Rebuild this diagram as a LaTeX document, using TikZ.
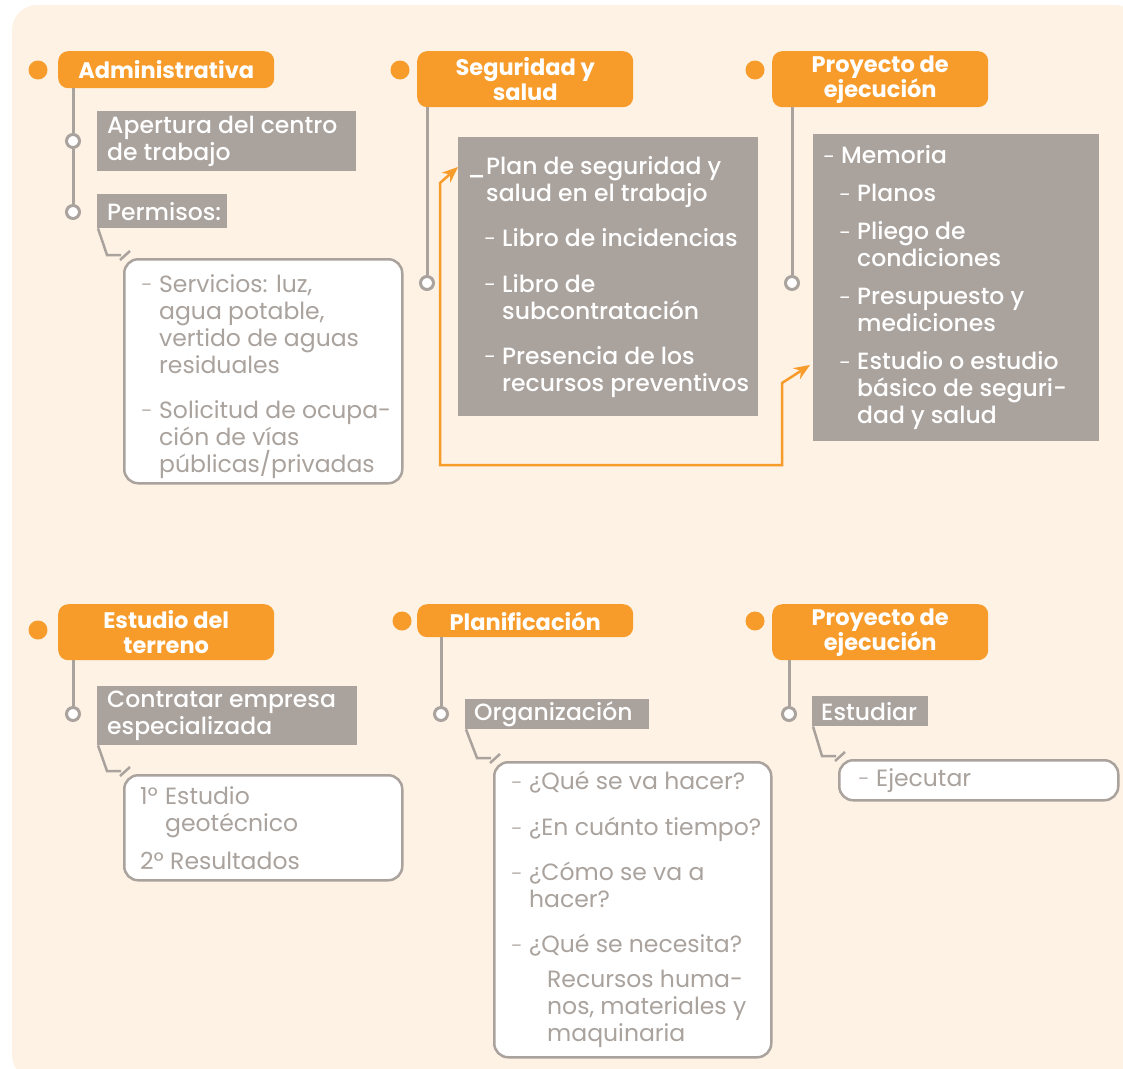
\documentclass[tikz,border=0pt]{standalone}
\usepackage{fontspec}
\setmainfont{Poppins}
\newfontfamily\pmed{Poppins Medium}
\usetikzlibrary{arrows.meta,calc}

\definecolor{naranja}{HTML}{F79C2B}
\definecolor{gris}{HTML}{A9A29D}
\definecolor{crema}{HTML}{FDF2E4}

\newcommand{\guion}{\makebox[19pt][l]{\hspace{1pt}\raisebox{1.5pt}{\fontsize{16}{16}\selectfont–}}}
\newcommand{\sang}{\hspace*{19pt}}

\tikzset{
  cab/.style={fill=naranja, rounded corners=10, text=white, font=\bfseries\fontsize{22.5}{25}\selectfont,
    align=center, anchor=north west, minimum width=216, inner sep=0pt},
  punto/.style={circle, fill=naranja, minimum size=19, inner sep=0pt},
  hito/.style={circle, draw=gris, line width=3, fill=white, minimum size=13, inner sep=0pt},
  caja/.style={fill=gris, anchor=north west, inner sep=0pt},
  nota/.style={draw=gris, line width=2.5, fill=white, rounded corners=14, anchor=north west, inner sep=0pt},
  tcaja/.style={text=white, align=left, anchor=west, inner sep=0pt, font=\pmed\fontsize{23.5}{27}\selectfont},
  tnota/.style={text=gris, align=left, anchor=west, inner sep=0pt, font=\fontsize{23.5}{27}\selectfont},
  eje/.style={draw=gris, line width=3},
  enlace/.style={draw=gris, line width=2.5},
  flecha/.style={draw=naranja, line width=2.5, {Stealth[length=16pt,width=13pt]}-{Stealth[length=16pt,width=13pt]}},
}

\begin{document}
\begin{tikzpicture}[x=1pt,y=-1pt]
\useasboundingbox (0,0) rectangle (1123,1068);
\clip (0,0) rectangle (1123,1068);
\fill[crema, rounded corners=25] (12,5) rectangle (1140,1080);

% administrativa
\node[punto] (p1) at (38,70) {};
\node[cab, minimum height=37] (adm) at (58,51) {Administrativa};
\node[hito] (h1) at (73,141) {};
\node[hito] (h2) at (73,212) {};
\draw[eje] (adm.south -| h1) -- (h1.north) (h1.south) -- (h2.north);
\node[caja, minimum width=259, minimum height=60] (apert) at (97,111) {};
\node[tcaja] (apertt) at ($(apert.west)+(10,0)$) {Apertura del centro\\de trabajo};
\node[caja, minimum width=130, minimum height=34] (perm) at (97,194) {};
\node[tcaja] (permt) at ($(perm.west)+(10,0)$) {Permisos:};
\node[nota, minimum width=278, minimum height=224] (serv) at (123,258) {};
\node[tnota] (servt) at ($(serv.west)+(17,5)$) {\guion Servicios: luz,\\\sang agua potable,\\\sang vertido de aguas\\\sang residuales\\[18pt]\guion Solicitud de ocupa-\\\sang ción de vías\\\sang públicas/privadas};
\draw[enlace] ($(perm.south west)+(1,0)$) -- ($(serv.north west)+(-16,-3)$) -- ($(serv.north west)+(-2,-3)$);
\draw[enlace] ($(serv.north west)+(-3,2)$) -- ($(serv.north west)+(7,-7)$);

% seguridad y salud
\node[punto] (p2) at (400,70) {};
\node[cab, minimum height=56] (seg) at (417,51) {Seguridad y\\salud};
\node[hito] (h3) at (427,283) {};
\draw[eje] (seg.south -| h3) -- (h3.north);
\node[caja, minimum width=300, minimum height=279] (plan) at (458,137) {};
\node[tcaja] (plant) at ($(plan.west)+(9,0)$) {\makebox[19pt][l]{\_}Plan de seguridad y\\\sang salud en el trabajo\\[18pt]\hspace*{16pt}\guion Libro de incidencias\\[19pt]\hspace*{16pt}\guion Libro de\\\hspace*{35pt}subcontratación\\[18pt]\hspace*{16pt}\guion Presencia de los\\\hspace*{35pt}recursos preventivos};

% proyecto de ejecucion
\node[punto] (p3) at (755,70) {};
\node[cab, minimum height=56] (proy) at (772,51) {Proyecto de\\ejecución};
\node[hito] (h4) at (792,283) {};
\draw[eje] (proy.south -| h4) -- (h4.north);
\node[caja, minimum width=286, minimum height=307] (memo) at (813,134) {};
\node[tcaja] (memot) at ($(memo.west)+(9,0)$) {\guion Memoria\\[11pt]\hspace*{16pt}\guion Planos\\[11pt]\hspace*{16pt}\guion Pliego de\\\hspace*{35pt}condiciones\\[11pt]\hspace*{16pt}\guion Presupuesto y\\\hspace*{35pt}mediciones\\[11pt]\hspace*{16pt}\guion Estudio o estudio\\\hspace*{35pt}básico de seguri-\\\hspace*{35pt}dad y salud};

% flecha naranja
\coordinate (f1) at (440,465);
\coordinate (f2) at (782,465);
\draw[flecha] ($(plan.north west)+(0,30)$) -- ($(plan.north west)+(-18,46)$) -- (f1) -- (f2)
  -- ($(memo.north west)+(-31,249)$) -- ($(memo.north west)+(-3,231)$);

% estudio del terreno
\node[punto] (p4) at (38,630) {};
\node[cab, minimum height=56] (est) at (58,604) {Estudio del\\terreno};
\node[hito] (h5) at (73,714) {};
\draw[eje] (est.south -| h5) -- (h5.north);
\node[caja, minimum width=260, minimum height=59] (contr) at (97,686) {};
\node[tcaja] (contrt) at ($(contr.west)+(10,0)$) {Contratar empresa\\especializada};
\node[nota, minimum width=278, minimum height=105] (resul) at (123,774) {};
\node[tnota] (result) at ($(resul.west)+(17,0)$) {\makebox[25pt][l]{1º}Estudio\\\hspace*{25pt}geotécnico\\[11pt]2º Resultados};
\draw[enlace] ($(contr.south west)+(1,0)$) -- ($(resul.north west)+(-16,-3)$) -- ($(resul.north west)+(-2,-3)$);
\draw[enlace] ($(resul.north west)+(-3,2)$) -- ($(resul.north west)+(7,-7)$);

% planificacion
\node[punto] (p5) at (402,621) {};
\node[cab, minimum height=33] (plani) at (417,604) {Planificación};
\node[hito] (h6) at (441,714) {};
\draw[eje] (plani.south -| h6) -- (h6.north);
\node[caja, minimum width=184, minimum height=30] (org) at (465,699) {};
\node[tcaja] (orgt) at ($(org.west)+(9,0)$) {Organización};
\node[nota, minimum width=277, minimum height=295] (preg) at (493,761) {};
\node[tnota] (pregt) at ($(preg.west)+(17,0)$) {\guion ¿Qué se va hacer?\\[19pt]\guion ¿En cuánto tiempo?\\[18pt]\guion ¿Cómo se va a\\\sang hacer?\\[18pt]\guion ¿Qué se necesita?\\[8pt]\hspace*{37pt}Recursos huma-\\\hspace*{37pt}nos, materiales y\\\hspace*{37pt}maquinaria};
\draw[enlace] ($(org.south west)+(1,0)$) -- ($(preg.north west)+(-16,-3)$) -- ($(preg.north west)+(-2,-3)$);
\draw[enlace] ($(preg.north west)+(-3,2)$) -- ($(preg.north west)+(7,-7)$);

% proyecto de ejecucion (2)
\node[punto] (p6) at (755,621) {};
\node[cab, minimum height=56] (proy2) at (772,604) {Proyecto de\\ejecución};
\node[hito] (h7) at (789,714) {};
\draw[eje] (proy2.south -| h7) -- (h7.north);
\node[caja, minimum width=116, minimum height=30] (estud) at (812,696) {};
\node[tcaja] (estudt) at ($(estud.west)+(9,0)$) {Estudiar};
\node[nota, minimum width=279, minimum height=40] (ejec) at (838,759) {};
\node[tnota] (eject) at ($(ejec.west)+(19,0)$) {\guion Ejecutar};
\draw[enlace] ($(estud.south west)+(1,0)$) -- ($(ejec.north west)+(-16,-3)$) -- ($(ejec.north west)+(-2,-3)$);
\draw[enlace] ($(ejec.north west)+(-3,2)$) -- ($(ejec.north west)+(7,-7)$);
\end{tikzpicture}
\end{document}
